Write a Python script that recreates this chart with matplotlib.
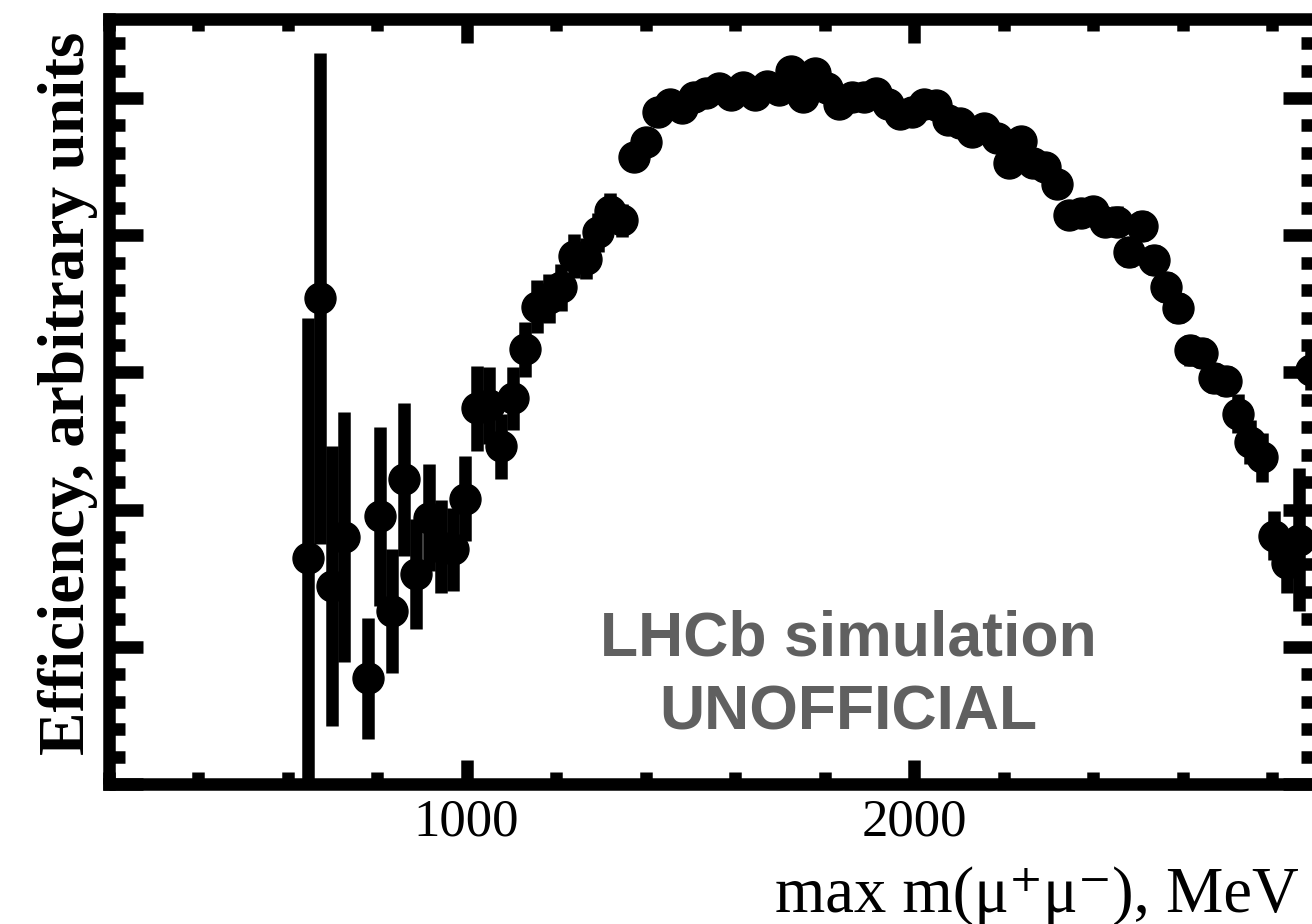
import numpy as np
import matplotlib
matplotlib.use('Agg')
import matplotlib.pyplot as plt
from matplotlib.ticker import MultipleLocator

# bin centres, MeV (bin at 753 is empty)
mass = [645, 672, 699, 726, 753, 780, 807, 834, 861, 888,
        915, 942, 969, 996, 1023, 1050, 1077, 1104, 1131, 1158,
        1185, 1212, 1239, 1266, 1293, 1320, 1347, 1374, 1401, 1428,
        1455, 1482, 1509, 1536, 1563, 1590, 1617, 1644, 1671, 1698,
        1725, 1752, 1779, 1806, 1833, 1860, 1887, 1914, 1941, 1968,
        1995, 2022, 2049, 2076, 2103, 2130, 2157, 2184, 2211, 2238,
        2265, 2292, 2319, 2346, 2373, 2400, 2427, 2454, 2481, 2508,
        2535, 2562, 2589, 2616, 2643, 2670, 2697, 2724, 2751, 2778,
        2805, 2832, 2859, 2886]

eff = [1.65, 3.54, 1.44, 1.80, np.nan, 0.77, 1.95, 1.26, 2.22, 1.53,
       1.94, 1.73, 1.71, 2.08, 2.74, 2.76, 2.46, 2.81, 3.17, 3.48,
       3.54, 3.62, 3.85, 3.83, 4.02, 4.18, 4.11, 4.57, 4.68, 4.90,
       4.96, 4.93, 5.01, 5.04, 5.07, 5.02, 5.08, 5.02, 5.09, 5.06,
       5.20, 5.01, 5.18, 5.07, 4.96, 5.01, 5.01, 5.04, 4.96, 4.88,
       4.90, 4.96, 4.95, 4.84, 4.82, 4.75, 4.78, 4.71, 4.53, 4.69,
       4.53, 4.50, 4.37, 4.15, 4.16, 4.18, 4.10, 4.10, 3.88, 4.07,
       3.82, 3.62, 3.47, 3.16, 3.14, 2.96, 2.94, 2.70, 2.49, 2.38,
       1.81, 1.61, 1.78, 3.02]

err = [1.75, 1.79, 1.02, 0.91, np.nan, 0.44, 0.65, 0.45, 0.56, 0.40,
       0.39, 0.34, 0.30, 0.31, 0.31, 0.28, 0.24, 0.23, 0.20, 0.19,
       0.18, 0.17, 0.16, 0.15, 0.14, 0.13, 0.12, 0.10, 0.09, 0.08,
       0.06, 0.06, 0.06, 0.06, 0.06, 0.06, 0.06, 0.06, 0.06, 0.06,
       0.06, 0.06, 0.06, 0.06, 0.06, 0.06, 0.06, 0.06, 0.06, 0.06,
       0.06, 0.06, 0.06, 0.06, 0.06, 0.06, 0.06, 0.08, 0.08, 0.08,
       0.08, 0.08, 0.08, 0.08, 0.08, 0.08, 0.08, 0.11, 0.11, 0.11,
       0.11, 0.11, 0.11, 0.11, 0.11, 0.11, 0.11, 0.14, 0.16, 0.18,
       0.18, 0.22, 0.52, 0.15]

W, H = 1312, 924
fig = plt.figure(figsize=(W / 100, H / 100), dpi=100)
ax = fig.add_axes([108.5 / W, 140 / H, (1317 - 108.5) / W, 765 / H])

ax.errorbar(mass, eff, yerr=err, fmt='o', color='black', ms=22.3,
            elinewidth=9, capsize=0)

ax.set_xlim(200, 2900)
ax.set_ylim(0, 5.576)

for s in ax.spines.values():
    s.set_linewidth(9)
    s.set_capstyle('projecting')

ax.xaxis.set_major_locator(MultipleLocator(1000))
ax.xaxis.set_minor_locator(MultipleLocator(200))
ax.yaxis.set_major_locator(MultipleLocator(1))
ax.yaxis.set_minor_locator(MultipleLocator(0.2))

ax.tick_params(axis='x', which='major', direction='in', length=17.3, width=9,
               top=True, bottom=True, labelsize=38, pad=10.5)
ax.tick_params(axis='x', which='minor', direction='in', length=8.6, width=9,
               top=True, bottom=True)
ax.tick_params(axis='y', which='major', direction='in', length=24.5, width=9,
               left=True, right=True, labelleft=False)
ax.tick_params(axis='y', which='minor', direction='in', length=11.5, width=9,
               left=True, right=True)
for lab in ax.get_xticklabels():
    lab.set_family('Liberation Serif')

fig.text(775 / W, 1 - 912 / H, 'max m(μ⁺μ⁻), MeV',
         fontsize=46.5, family=['Liberation Serif', 'DejaVu Serif'],
         ha='left', va='baseline')
fig.text(84 / W, 1 - 755 / H, 'Efficiency, arbitrary units', rotation=90,
         rotation_mode='anchor', ha='left', va='baseline', fontsize=47,
         fontweight='bold', family='Liberation Serif')

fig.text(848 / W, 1 - 655 / H, 'LHCb simulation', fontsize=45,
         fontweight='bold', family='Liberation Sans', color='#606060',
         ha='center', va='baseline')
fig.text(848 / W, 1 - 730 / H, 'UNOFFICIAL', fontsize=45,
         fontweight='bold', family='Liberation Sans', color='#606060',
         ha='center', va='baseline')

fig.savefig('out.png', dpi=100)
